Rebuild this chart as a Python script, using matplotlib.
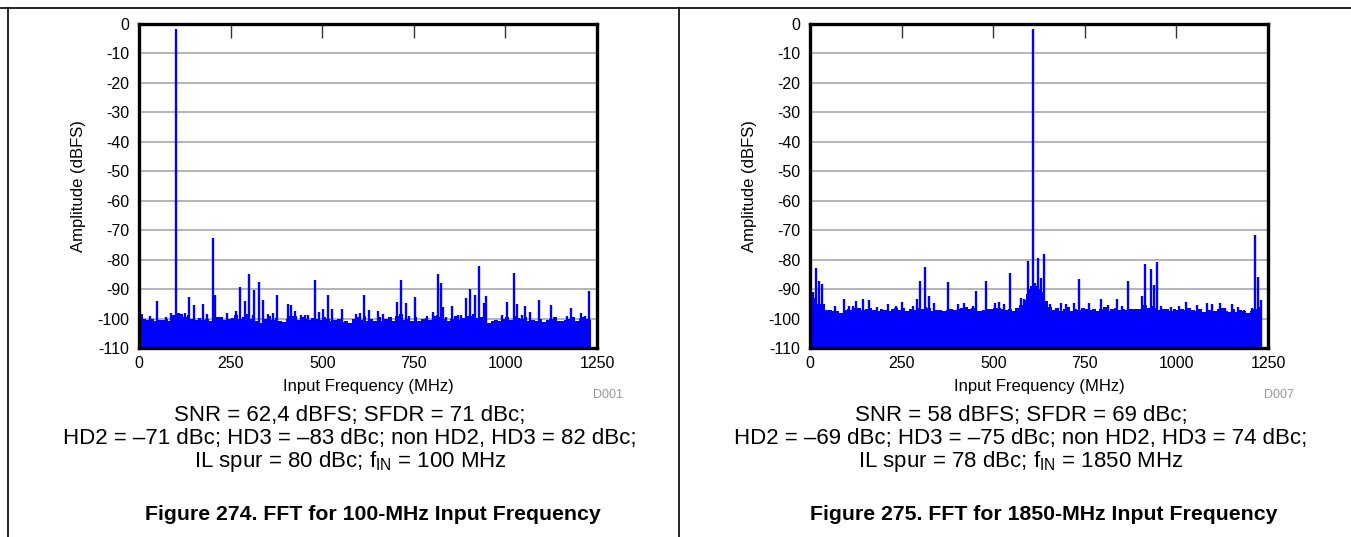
import numpy as np
import matplotlib
matplotlib.use("Agg")
import matplotlib.pyplot as plt
from matplotlib.lines import Line2D

plt.rcParams["font.family"] = ["Liberation Sans", "DejaVu Sans"]
NARROW = ["Liberation Sans Narrow", "Liberation Sans", "DejaVu Sans"]

W, H = 1351, 537
FLOOR = -110
BLUE = "#0000ff"
BIN_MHZ = 10      # width of one noise-floor bin
DATA_END = 1233   # last FFT bin (fs/2 for 2457.6 MSPS)

# noise floor top, one value per 10-MHz bin from 0 MHz (dBFS)
noise_100 = [
    -98.5, -100, -100.5, -100, -101, -100.5, -100.5, -100.3, -101, -98.8,
    -98, -98.5, -99.5, -98.8, -100, -100.5, -99.8, -100.5, -100.3, -101,
    -100, -99.5, -99.5, -100.5, -100, -99.8, -98.8, -100.3, -99.5, -98.5,
    -100, -101, -100.8, -101.5, -100, -99, -100.5, -99.8, -100.8, -101.2,
    -100.3, -99, -99.3, -100.5, -99.5, -100, -100.4, -99.8, -100, -100.5,
    -99.5, -100, -101, -100.5, -100.3, -101.2, -100.8, -101.5, -100, -99.5,
    -100.5, -99.2, -100.8, -100, -101, -99.5, -100.8, -100, -99.5, -101,
    -99, -98.5, -100.5, -100, -101, -99.6, -101, -100.2, -99.8, -100.5,
    -99, -98.8, -99.5, -100, -100.8, -100.2, -99, -100.5, -99.8, -99.3,
    -99, -98.5, -99.8, -99.5, -98.8, -101.5, -101, -100.6, -100.8, -100.2,
    -99.5, -100.5, -99, -99.8, -100.3, -99.5, -100.8, -100.5, -101, -100,
    -101.2, -100.5, -100, -99.6, -101, -100.8, -100.5, -100.3, -99.6, -100.8,
    -100.3, -99.6, -100, -100.5,
]
noise_1850 = [
    -91.5, -93, -95, -95, -97.2, -97, -97.3, -97.5, -98.2, -97,
    -96.8, -97, -96.5, -96.3, -97, -96.8, -96.5, -97.2, -97.5, -96.8,
    -97, -97.3, -96.6, -96.5, -97, -96.5, -97.3, -96.8, -97, -96.5,
    -96.8, -96, -96.5, -97.5, -97, -97.2, -97.3, -97, -96.8, -97.2,
    -96.8, -96.5, -96.2, -96.7, -96.5, -97.5, -97.6, -97.2, -96.8, -96.9,
    -96.5, -96.3, -96.6, -97.2, -96.8, -97.5, -96.5, -95.5, -93.8, -91.5,
    -89, -89, -90, -91, -94, -96.2, -97, -96.5, -97.3, -96.8,
    -96.2, -97.5, -96.8, -97.2, -96.5, -96.8, -97, -96.6, -97.3, -96.9,
    -96.2, -97.5, -96.8, -96.5, -97, -96.8, -97.2, -96.6, -96.9, -96.8,
    -96.6, -95.5, -96.3, -95.6, -96.5, -97, -96.8, -96.6, -97.3, -96.8,
    -97, -96.6, -97.2, -96.5, -97, -97.5, -96.8, -97.8, -97, -97.2,
    -97.5, -96.8, -96.5, -97.3, -97.8, -96.8, -97.8, -97.2, -97.6, -98,
    -97.3, -96.8, -96, -95.5,
]

# discrete spurs and tones (MHz, dBFS)
spur_f_100 = [100, 201, 30, 50, 75, 87, 110, 126, 137, 151, 176, 185, 207, 239,
              265, 276, 290, 301, 311, 315, 327, 339, 352, 365, 377, 408, 415,
              425, 441, 453, 462, 479, 492, 503, 515, 527, 553, 591, 604, 615,
              628, 653, 667, 703, 716, 729, 738, 754, 787, 803, 816, 823, 829,
              838, 854, 870, 879, 892, 903, 918, 929, 942, 947, 992, 1005,
              1023, 1031, 1044, 1054, 1067, 1093, 1124, 1167, 1180, 1206,
              1218, 1229]
spur_db_100 = [-1.8, -72.5, -99.2, -94.2, -99.5, -98.2, -98.2, -98, -92.8, -95.5,
               -95.2, -98.5, -92, -98.2, -97.4, -89.3, -94, -85, -98.8, -90.2,
               -87.7, -93.6, -98.5, -98, -92, -95, -95.3, -97.6, -98.8, -98.9,
               -98.9, -87, -97.9, -96.6, -92, -96.6, -96.7, -98.5, -98.2, -92,
               -97.2, -97.3, -98.4, -94.3, -86.8, -94.8, -99.2, -92.6, -99,
               -97.7, -84.8, -88, -96, -99.4, -95.6, -98.9, -98.9, -93, -90,
               -92, -82.3, -94.8, -92.5, -98.7, -94.4, -84.5, -95, -98.8,
               -95.9, -97.8, -93.7, -95.5, -99, -96.5, -98, -99, -90.8]

spur_f_1850 = [607.6, 1215, 7, 15.5, 24, 32, 69, 94, 107, 118, 126, 145, 162,
               183, 214, 234, 252, 280, 293, 300, 315, 324, 339, 377, 405, 420,
               444, 454, 481, 505, 516, 529, 545, 575, 583, 594, 600, 614, 623,
               631, 639, 656, 685, 700, 720, 733, 762, 795, 814, 838, 851, 869,
               905, 915, 931, 938, 947, 958, 985, 1007, 1027, 1056, 1084, 1098,
               1120, 1133, 1151, 1169, 1185, 1206, 1224, 1231]
spur_db_1850 = [-1.8, -71.6, -91.1, -83, -87.2, -88.4, -95.7, -93.2, -95.7, -95.7,
                -94, -93.2, -93.8, -96, -94.9, -95.7, -94.3, -95.8, -93.5, -87.2,
                -82.6, -92.2, -94.6, -87.6, -95.2, -94.6, -95.6, -90.6, -87.2,
                -94.6, -94.5, -95.1, -84.6, -92.9, -93.3, -80.4, -90, -87.8,
                -79.6, -86.1, -78.1, -95, -94.6, -95, -94.8, -86.5, -94.6, -93.3,
                -95.4, -93.2, -95.6, -87.1, -92.2, -81.4, -83.3, -88.5, -80.9,
                -95.8, -96, -95.6, -94.3, -95.4, -94.7, -95, -94.6, -96.3, -95.2,
                -96, -97, -96.5, -85.9, -93.8]

x_ticks = [0, 250, 500, 750, 1000, 1250]
y_ticks = list(range(0, -111, -10))

panels = [
    dict(left=139, noise=noise_100, sf=spur_f_100, sd=spur_db_100, code="D001",
         lines=["SNR = 62,4 dBFS; SFDR = 71 dBc;",
                "HD2 = \u201371 dBc; HD3 = \u201383 dBc; non HD2, HD3 = 82 dBc;",
                r"IL spur = 80 dBc; f$_\mathregular{IN}$ = 100 MHz"],
         title="Figure 274. FFT for 100-MHz Input Frequency"),
    dict(left=810, noise=noise_1850, sf=spur_f_1850, sd=spur_db_1850, code="D007",
         lines=["SNR = 58 dBFS; SFDR = 69 dBc;",
                "HD2 = \u201369 dBc; HD3 = \u201375 dBc; non HD2, HD3 = 74 dBc;",
                r"IL spur = 78 dBc; f$_\mathregular{IN}$ = 1850 MHz"],
         title="Figure 275. FFT for 1850-MHz Input Frequency"),
]


def fx(x):
    return x / W


def fy(y):
    return 1 - y / H


fig = plt.figure(figsize=(W / 100, H / 100), dpi=100)

for p in panels:
    ax = fig.add_axes([fx(p["left"]), fy(348), 458 / W, 324 / H])
    n = len(p["noise"])
    f = np.append(np.arange(n) * BIN_MHZ, DATA_END)
    v = np.append(p["noise"], p["noise"][-1])
    ax.fill_between(f, FLOOR, v, step="post", color=BLUE, lw=0, zorder=3)
    ax.vlines(p["sf"], FLOOR, p["sd"], color=BLUE, lw=1.7, zorder=4)

    ax.set_xlim(0, 1250)
    ax.set_ylim(-110, 0)
    ax.set_xticks(x_ticks)
    ax.set_yticks(y_ticks)
    ax.set_yticklabels([str(t) for t in y_ticks])
    ax.tick_params(axis="x", which="both", top=True, bottom=False, direction="in",
                   length=10, width=1, color="#333333", labelsize=11.5, pad=6)
    ax.tick_params(axis="y", length=0, labelsize=11.5, pad=7)
    ax.grid(axis="y", color="#a8a8a8", lw=1.2, zorder=1)
    for s in ax.spines.values():
        s.set_linewidth(2.4)
        s.set_zorder(5)
    ax.set_ylabel("Amplitude (dBFS)", fontsize=12, labelpad=8)

    cx = p["left"] + 229
    fig.text(fx(cx), fy(386), "Input Frequency (MHz)", family=NARROW, fontsize=12,
             ha="center", va="center")
    fig.text(fx(p["left"] + 484), fy(395), p["code"], family=NARROW, fontsize=9,
             color="#999999", ha="right", va="center")
    for i, line in enumerate(p["lines"]):
        fig.text(fx(p["left"] + 211), fy(415 + 23.5 * i), line, family=NARROW,
                 fontsize=16, ha="center", va="center")
    fig.text(fx(cx + 5), fy(515), p["title"], family=NARROW, fontsize=15.3,
             weight="bold", ha="center", va="center")

# outer frame of the two figure cells
fig.add_artist(Line2D([0, 1], [fy(8), fy(8)], color="black", lw=1.2))
fig.add_artist(Line2D([fx(8), fx(8)], [0, fy(8)], color="black", lw=1.2))
fig.add_artist(Line2D([fx(679), fx(679)], [0, fy(8)], color="black", lw=1.2))

fig.savefig("out.png", dpi=100)
